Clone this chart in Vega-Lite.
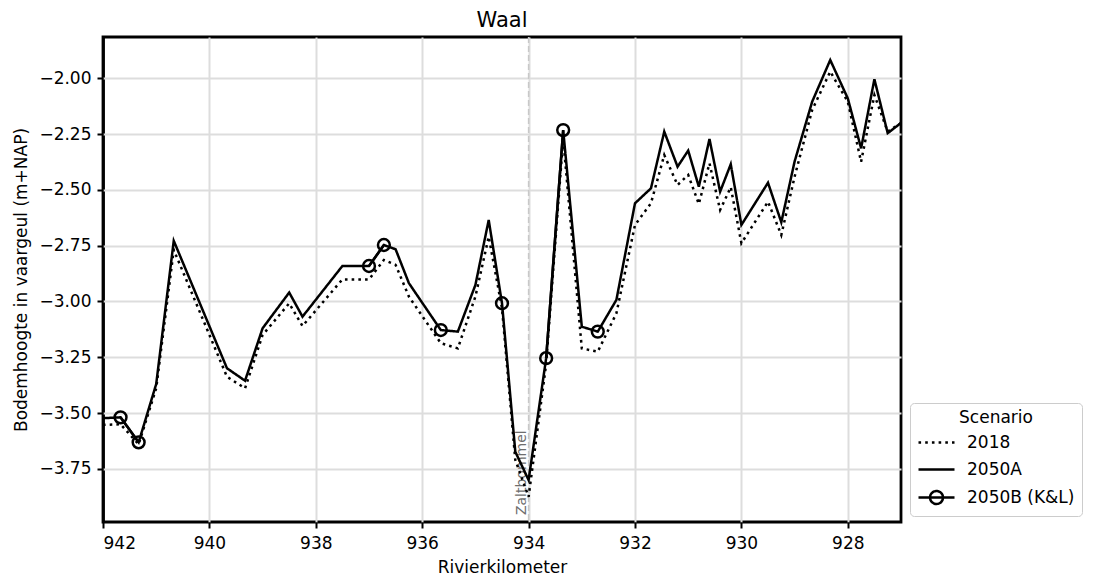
{
  "$schema": "https://vega.github.io/schema/vega-lite/v6.json",
  "autosize": {"type": "none"},
  "padding": {"left": 103, "top": 37, "right": 195, "bottom": 58},
  "width": 798,
  "height": 485,
  "title": {"text": "Waal", "fontSize": 21, "font": "DejaVu Sans", "fontWeight": "normal", "color": "black", "offset": 5},
  "datasets": {
    "profiles": [
      {"km": 942.0, "z": -3.553, "scenario": "2018", "seg": "2018"},
      {"km": 941.67, "z": -3.55, "scenario": "2018", "seg": "2018"},
      {"km": 941.33, "z": -3.64, "scenario": "2018", "seg": "2018"},
      {"km": 941.0, "z": -3.389, "scenario": "2018", "seg": "2018"},
      {"km": 940.67, "z": -2.769, "scenario": "2018", "seg": "2018"},
      {"km": 939.67, "z": -3.337, "scenario": "2018", "seg": "2018"},
      {"km": 939.33, "z": -3.389, "scenario": "2018", "seg": "2018"},
      {"km": 939.0, "z": -3.15, "scenario": "2018", "seg": "2018"},
      {"km": 938.5, "z": -3.008, "scenario": "2018", "seg": "2018"},
      {"km": 938.25, "z": -3.11, "scenario": "2018", "seg": "2018"},
      {"km": 937.5, "z": -2.901, "scenario": "2018", "seg": "2018"},
      {"km": 937.0, "z": -2.901, "scenario": "2018", "seg": "2018"},
      {"km": 936.72, "z": -2.814, "scenario": "2018", "seg": "2018"},
      {"km": 936.5, "z": -2.836, "scenario": "2018", "seg": "2018"},
      {"km": 936.25, "z": -2.978, "scenario": "2018", "seg": "2018"},
      {"km": 935.65, "z": -3.187, "scenario": "2018", "seg": "2018"},
      {"km": 935.33, "z": -3.21, "scenario": "2018", "seg": "2018"},
      {"km": 935.0, "z": -2.978, "scenario": "2018", "seg": "2018"},
      {"km": 934.75, "z": -2.71, "scenario": "2018", "seg": "2018"},
      {"km": 934.5, "z": -3.03, "scenario": "2018", "seg": "2018"},
      {"km": 934.25, "z": -3.71, "scenario": "2018", "seg": "2018"},
      {"km": 934.0, "z": -3.875, "scenario": "2018", "seg": "2018"},
      {"km": 933.67, "z": -3.28, "scenario": "2018", "seg": "2018"},
      {"km": 933.35, "z": -2.27, "scenario": "2018", "seg": "2018"},
      {"km": 933.0, "z": -3.21, "scenario": "2018", "seg": "2018"},
      {"km": 932.7, "z": -3.225, "scenario": "2018", "seg": "2018"},
      {"km": 932.35, "z": -3.053, "scenario": "2018", "seg": "2018"},
      {"km": 932.0, "z": -2.657, "scenario": "2018", "seg": "2018"},
      {"km": 931.7, "z": -2.56, "scenario": "2018", "seg": "2018"},
      {"km": 931.45, "z": -2.344, "scenario": "2018", "seg": "2018"},
      {"km": 931.2, "z": -2.478, "scenario": "2018", "seg": "2018"},
      {"km": 931.0, "z": -2.433, "scenario": "2018", "seg": "2018"},
      {"km": 930.8, "z": -2.563, "scenario": "2018", "seg": "2018"},
      {"km": 930.6, "z": -2.381, "scenario": "2018", "seg": "2018"},
      {"km": 930.4, "z": -2.59, "scenario": "2018", "seg": "2018"},
      {"km": 930.2, "z": -2.488, "scenario": "2018", "seg": "2018"},
      {"km": 930.0, "z": -2.739, "scenario": "2018", "seg": "2018"},
      {"km": 929.5, "z": -2.553, "scenario": "2018", "seg": "2018"},
      {"km": 929.25, "z": -2.702, "scenario": "2018", "seg": "2018"},
      {"km": 929.0, "z": -2.441, "scenario": "2018", "seg": "2018"},
      {"km": 928.67, "z": -2.142, "scenario": "2018", "seg": "2018"},
      {"km": 928.33, "z": -1.97, "scenario": "2018", "seg": "2018"},
      {"km": 928.0, "z": -2.105, "scenario": "2018", "seg": "2018"},
      {"km": 927.75, "z": -2.374, "scenario": "2018", "seg": "2018"},
      {"km": 927.5, "z": -2.075, "scenario": "2018", "seg": "2018"},
      {"km": 927.25, "z": -2.239, "scenario": "2018", "seg": "2018"},
      {"km": 927.0, "z": -2.2, "scenario": "2018", "seg": "2018"},
      {"km": 942.0, "z": -3.523, "scenario": "2050A", "seg": "2050A"},
      {"km": 941.67, "z": -3.519, "scenario": "2050A", "seg": "2050A"},
      {"km": 941.33, "z": -3.631, "scenario": "2050A", "seg": "2050A"},
      {"km": 941.0, "z": -3.37, "scenario": "2050A", "seg": "2050A"},
      {"km": 940.67, "z": -2.728, "scenario": "2050A", "seg": "2050A"},
      {"km": 939.67, "z": -3.299, "scenario": "2050A", "seg": "2050A"},
      {"km": 939.33, "z": -3.355, "scenario": "2050A", "seg": "2050A"},
      {"km": 939.0, "z": -3.12, "scenario": "2050A", "seg": "2050A"},
      {"km": 938.5, "z": -2.96, "scenario": "2050A", "seg": "2050A"},
      {"km": 938.25, "z": -3.068, "scenario": "2050A", "seg": "2050A"},
      {"km": 937.5, "z": -2.841, "scenario": "2050A", "seg": "2050A"},
      {"km": 937.0, "z": -2.841, "scenario": "2050A", "seg": "2050A"},
      {"km": 936.72, "z": -2.747, "scenario": "2050A", "seg": "2050A"},
      {"km": 936.5, "z": -2.766, "scenario": "2050A", "seg": "2050A"},
      {"km": 936.25, "z": -2.918, "scenario": "2050A", "seg": "2050A"},
      {"km": 935.65, "z": -3.128, "scenario": "2050A", "seg": "2050A"},
      {"km": 935.33, "z": -3.135, "scenario": "2050A", "seg": "2050A"},
      {"km": 935.0, "z": -2.926, "scenario": "2050A", "seg": "2050A"},
      {"km": 934.75, "z": -2.635, "scenario": "2050A", "seg": "2050A"},
      {"km": 934.5, "z": -3.008, "scenario": "2050A", "seg": "2050A"},
      {"km": 934.25, "z": -3.673, "scenario": "2050A", "seg": "2050A"},
      {"km": 934.0, "z": -3.8, "scenario": "2050A", "seg": "2050A"},
      {"km": 933.67, "z": -3.254, "scenario": "2050A", "seg": "2050A"},
      {"km": 933.35, "z": -2.232, "scenario": "2050A", "seg": "2050A"},
      {"km": 933.0, "z": -3.113, "scenario": "2050A", "seg": "2050A"},
      {"km": 932.7, "z": -3.135, "scenario": "2050A", "seg": "2050A"},
      {"km": 932.35, "z": -2.993, "scenario": "2050A", "seg": "2050A"},
      {"km": 932.0, "z": -2.56, "scenario": "2050A", "seg": "2050A"},
      {"km": 931.7, "z": -2.493, "scenario": "2050A", "seg": "2050A"},
      {"km": 931.45, "z": -2.239, "scenario": "2050A", "seg": "2050A"},
      {"km": 931.2, "z": -2.396, "scenario": "2050A", "seg": "2050A"},
      {"km": 931.0, "z": -2.324, "scenario": "2050A", "seg": "2050A"},
      {"km": 930.8, "z": -2.486, "scenario": "2050A", "seg": "2050A"},
      {"km": 930.6, "z": -2.272, "scenario": "2050A", "seg": "2050A"},
      {"km": 930.4, "z": -2.508, "scenario": "2050A", "seg": "2050A"},
      {"km": 930.2, "z": -2.385, "scenario": "2050A", "seg": "2050A"},
      {"km": 930.0, "z": -2.657, "scenario": "2050A", "seg": "2050A"},
      {"km": 929.5, "z": -2.468, "scenario": "2050A", "seg": "2050A"},
      {"km": 929.25, "z": -2.645, "scenario": "2050A", "seg": "2050A"},
      {"km": 929.0, "z": -2.373, "scenario": "2050A", "seg": "2050A"},
      {"km": 928.67, "z": -2.105, "scenario": "2050A", "seg": "2050A"},
      {"km": 928.33, "z": -1.918, "scenario": "2050A", "seg": "2050A"},
      {"km": 928.0, "z": -2.09, "scenario": "2050A", "seg": "2050A"},
      {"km": 927.75, "z": -2.314, "scenario": "2050A", "seg": "2050A"},
      {"km": 927.5, "z": -2.004, "scenario": "2050A", "seg": "2050A"},
      {"km": 927.25, "z": -2.246, "scenario": "2050A", "seg": "2050A"},
      {"km": 927.0, "z": -2.2, "scenario": "2050A", "seg": "2050A"},
      {"km": 941.67, "z": -3.519, "scenario": "2050B (K&L)", "seg": "B1"},
      {"km": 941.33, "z": -3.631, "scenario": "2050B (K&L)", "seg": "B1"},
      {"km": 937.0, "z": -2.841, "scenario": "2050B (K&L)", "seg": "B2"},
      {"km": 936.72, "z": -2.747, "scenario": "2050B (K&L)", "seg": "B2"},
      {"km": 935.65, "z": -3.128, "scenario": "2050B (K&L)", "seg": "B3"},
      {"km": 934.5, "z": -3.008, "scenario": "2050B (K&L)", "seg": "B4"},
      {"km": 933.67, "z": -3.254, "scenario": "2050B (K&L)", "seg": "B5"},
      {"km": 933.35, "z": -2.232, "scenario": "2050B (K&L)", "seg": "B5"},
      {"km": 932.7, "z": -3.135, "scenario": "2050B (K&L)", "seg": "B6"}
    ],
    "marker": [{"km": 934.0, "z": -3.957, "label": "Zaltbommel"}]
  },
  "layer": [
    {
      "data": {"name": "marker"},
      "mark": {"type": "rule", "color": "#c8c8c8", "strokeWidth": 1.5, "strokeDash": [6, 3]},
      "encoding": {
        "x": {"field": "km", "type": "quantitative", "scale": {"domain": [927, 942], "reverse": true, "nice": false, "zero": false}}
      }
    },
    {
      "data": {"name": "marker"},
      "mark": {"type": "text", "angle": 270, "align": "left", "baseline": "bottom", "fontSize": 14, "font": "DejaVu Sans", "color": "#6e6e6e"},
      "encoding": {
        "x": {"field": "km", "type": "quantitative"},
        "y": {"field": "z", "type": "quantitative"},
        "text": {"field": "label"}
      }
    },
    {
      "data": {"name": "profiles"},
      "mark": {"type": "line", "color": "black", "strokeWidth": 2.5, "clip": true},
      "encoding": {
        "x": {
          "field": "km", "type": "quantitative",
          "scale": {"domain": [927, 942], "reverse": true, "nice": false, "zero": false},
          "axis": {
            "title": "Rivierkilometer",
            "values": [942, 940, 938, 936, 934, 932, 930, 928],
            "format": "d",
            "titlePadding": 8,
            "labelPadding": 7,
            "gridColor": {"condition": {"test": "datum.value === 942", "value": "black"}, "value": "#dddddd"},
            "gridWidth": {"condition": {"test": "datum.value === 942", "value": 2.8}, "value": 2}
          }
        },
        "y": {
          "field": "z", "type": "quantitative",
          "scale": {"domain": [-3.988, -1.815], "nice": false, "zero": false},
          "axis": {
            "title": "Bodemhoogte in vaargeul (m+NAP)",
            "values": [-3.75, -3.5, -3.25, -3.0, -2.75, -2.5, -2.25, -2.0],
            "labelExpr": "replace(format(datum.value, '.2f'), '-', '\u2212')",
            "labelPadding": 6,
            "titlePadding": 8
          }
        },
        "strokeDash": {
          "field": "scenario", "type": "nominal",
          "scale": {"domain": ["2018", "2050A", "2050B (K&L)"], "range": [[2.6, 4.1], [1, 0], [1, 0]]},
          "legend": {
            "title": "Scenario",
            "orient": "none",
            "legendX": 807,
            "legendY": 366,
            "titleAnchor": "middle",
            "symbolSize": 324,
            "symbolOffset": 9,
            "symbolStrokeWidth": 2.5,
            "symbolStrokeColor": "black",
            "rowPadding": 8,
            "labelOffset": 20,
            "encode": {
              "symbols": {
                "update": {
                  "shape": {"signal": "datum.value === '2050B (K&L)' ? 'M-2,0H2M0.72,0A0.72,0.72,0,1,1,-0.72,0A0.72,0.72,0,1,1,0.72,0' : 'M-2,0H2'"},
                  "fill": {"value": "transparent"}
                }
              }
            }
          }
        },
        "detail": {"field": "seg", "type": "nominal"}
      }
    },
    {
      "data": {"name": "profiles"},
      "transform": [{"filter": "datum.scenario === '2050B (K&L)'"}],
      "mark": {"type": "point", "shape": "circle", "filled": false, "color": "black", "strokeWidth": 2.5, "size": 140, "opacity": 1, "clip": true},
      "encoding": {
        "x": {"field": "km", "type": "quantitative"},
        "y": {"field": "z", "type": "quantitative"}
      }
    }
  ],
  "config": {
    "font": "DejaVu Sans",
    "view": {"stroke": "black", "strokeWidth": 2.8},
    "axis": {
      "domain": false,
      "grid": true,
      "gridColor": "#dddddd",
      "gridWidth": 2,
      "tickColor": "black",
      "tickWidth": 2,
      "tickSize": 6,
      "labelFont": "DejaVu Sans",
      "labelFontSize": 17,
      "labelColor": "black",
      "titleFont": "DejaVu Sans",
      "titleFontSize": 17,
      "titleFontWeight": "normal",
      "titleColor": "black"
    },
    "legend": {
      "labelFont": "DejaVu Sans",
      "labelFontSize": 17,
      "labelColor": "black",
      "titleFont": "DejaVu Sans",
      "titleFontSize": 17,
      "titleFontWeight": "normal",
      "titleColor": "black",
      "strokeColor": "#cccccc",
      "fillColor": "white",
      "cornerRadius": 4,
      "padding": 7
    }
  }
}
